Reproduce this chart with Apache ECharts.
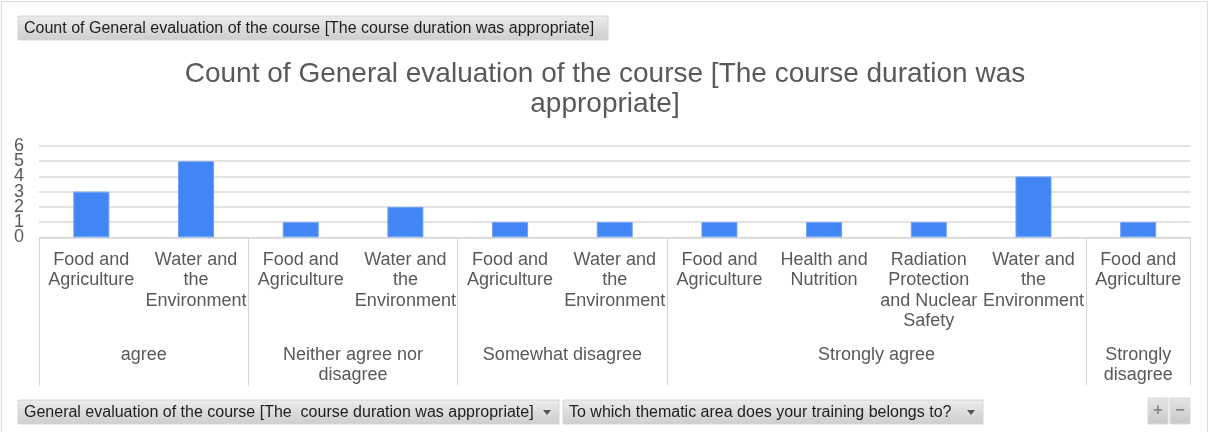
<!DOCTYPE html>
<html>
<head>
<meta charset="utf-8">
<title>Course duration</title>
<script src="https://cdn.jsdelivr.net/npm/echarts@6/dist/echarts.min.js"></script>
<style>
  html, body { margin: 0; padding: 0; background: #fff; }
  #chart { width: 1210px; height: 432px; }
</style>
</head>
<body>
<div id="chart"></div>
<script>
// inner categories (thematic area), one per bar
var themes = [
    'Food and\nAgriculture', 'Water and\nthe\nEnvironment',
    'Food and\nAgriculture', 'Water and\nthe\nEnvironment',
    'Food and\nAgriculture', 'Water and\nthe\nEnvironment',
    'Food and\nAgriculture', 'Health and\nNutrition', 'Radiation\nProtection\nand Nuclear\nSafety', 'Water and\nthe\nEnvironment',
    'Food and\nAgriculture'
];
var counts = [3, 5, 1, 2, 1, 1, 1, 1, 1, 4, 1];

// outer categories (evaluation) and how many themes each spans
var groups = ['agree', 'Neither agree nor\ndisagree', 'Somewhat disagree', 'Strongly agree', 'Strongly\ndisagree'];
var groupSizes = [2, 2, 2, 4, 1];

var yTicks = [0, 1, 2, 3, 4, 5, 6];

// group boundaries and centres on a 0..n scale
var bounds = [0], centres = [];
groupSizes.forEach(function (n, i) {
    var start = bounds[i];
    bounds.push(start + n);
    centres.push(start + n / 2);
});

// the y labels sit closer than their height, so split them over two axes
var yEven = yTicks.filter(function (v) { return v % 2 === 0; });
var yOdd = yTicks.filter(function (v) { return v % 2 === 1; });

var font = "'Liberation Sans', Arial, sans-serif";
var txt = '#595959';

var chart = echarts.init(document.getElementById('chart'));

function button(x, y, w, h, label, arrow) {
    var kids = [{
        type: 'rect',
        shape: { x: x, y: y, width: w, height: h },
        style: {
            fill: { type: 'linear', x: 0, y: 0, x2: 0, y2: 1,
                colorStops: [{ offset: 0, color: '#ececec' }, { offset: 1, color: '#cdcdcd' }] },
            stroke: '#d6d6d6', lineWidth: 1
        }
    }, {
        type: 'text',
        style: { x: x + 6, y: y + h / 2 + 1, text: label, fill: '#1e1e1e',
            font: '16px ' + font, verticalAlign: 'middle' }
    }];
    if (arrow) {
        kids.push({
            type: 'polygon',
            shape: { points: [[x + w - 16, y + h / 2 - 2], [x + w - 8, y + h / 2 - 2], [x + w - 12, y + h / 2 + 3]] },
            style: { fill: '#555' }
        });
    }
    return { type: 'group', children: kids };
}

function yAxisFor(labels, grid) {
    return {
        type: 'value',
        position: 'left',
        min: yTicks[0],
        max: yTicks[yTicks.length - 1],
        interval: 1,
        axisLine: { show: false },
        axisTick: { show: false },
        splitLine: { show: grid, lineStyle: { color: '#e2e2e2', width: 2 } },
        axisLabel: {
            margin: 15, color: txt, fontFamily: font, fontSize: 18,
            customValues: labels, showMinLabel: true, showMaxLabel: true
        }
    };
}

var option = {
    animation: false,
    backgroundColor: '#fff',
    title: {
        text: 'Count of General evaluation of the course [The course duration was\nappropriate]',
        left: 'center',
        top: 59,
        padding: 0,
        textStyle: { fontFamily: font, fontSize: 28, fontWeight: 'normal', color: txt, lineHeight: 30 }
    },
    grid: { left: 39, right: 19.5, top: 146, bottom: 194.7, containLabel: false },
    xAxis: [{
        type: 'category',
        data: themes,
        axisLine: { show: true, lineStyle: { color: '#d4d4d4', width: 1 } },
        axisTick: { show: false },
        axisLabel: {
            interval: 0, margin: 12, color: txt, fontFamily: font,
            fontSize: 18, lineHeight: 20.5, align: 'center'
        }
    }, {
        type: 'value',
        min: 0,
        max: themes.length,
        position: 'bottom',
        axisLine: { show: false },
        splitLine: { show: false },
        axisTick: {
            show: true, length: 148, customValues: bounds,
            lineStyle: { color: '#d4d4d4', width: 1 }
        },
        axisLabel: {
            margin: 107, color: txt, fontFamily: font, fontSize: 18, lineHeight: 20.5,
            customValues: centres,
            showMinLabel: true, showMaxLabel: true,
            formatter: function (v) {
                var i = centres.indexOf(v);
                return i >= 0 ? groups[i] : '';
            }
        }
    }],
    yAxis: [yAxisFor(yEven, true), yAxisFor(yOdd, false)],
    series: [{
        type: 'bar',
        data: counts,
        barWidth: 36,
        itemStyle: { color: '#4285f4', borderColor: '#6fa0f6', borderWidth: 1 }
    }],
    graphic: [
        { type: 'rect', shape: { x: 1.5, y: 1.5, width: 1206, height: 440 },
          style: { fill: 'none', stroke: '#dcdcdc', lineWidth: 1 }, silent: true },
        button(18, 16, 590, 24, 'Count of General evaluation of the course [The course duration was appropriate]', false),
        button(18, 400, 541, 24, 'General evaluation of the course [The  course duration was appropriate]', true),
        button(563, 400, 420, 24, 'To which thematic area does your training belongs to?', true),
        { type: 'group', children: [
            { type: 'rect', shape: { x: 1148, y: 398, width: 20, height: 26 },
              style: { fill: { type: 'linear', x: 0, y: 0, x2: 0, y2: 1,
                colorStops: [{ offset: 0, color: '#e4e4e4' }, { offset: 1, color: '#c8c8c8' }] }, stroke: '#dadada' } },
            { type: 'text', style: { x: 1158, y: 411, text: '+', fill: '#888', font: 'bold 16px ' + font,
                align: 'center', verticalAlign: 'middle' } },
            { type: 'rect', shape: { x: 1170, y: 398, width: 20, height: 26 },
              style: { fill: { type: 'linear', x: 0, y: 0, x2: 0, y2: 1,
                colorStops: [{ offset: 0, color: '#e4e4e4' }, { offset: 1, color: '#c8c8c8' }] }, stroke: '#dadada' } },
            { type: 'text', style: { x: 1180, y: 411, text: '\u2212', fill: '#888', font: 'bold 16px ' + font,
                align: 'center', verticalAlign: 'middle' } }
        ] }
    ]
};

chart.setOption(option);
</script>
</body>
</html>
